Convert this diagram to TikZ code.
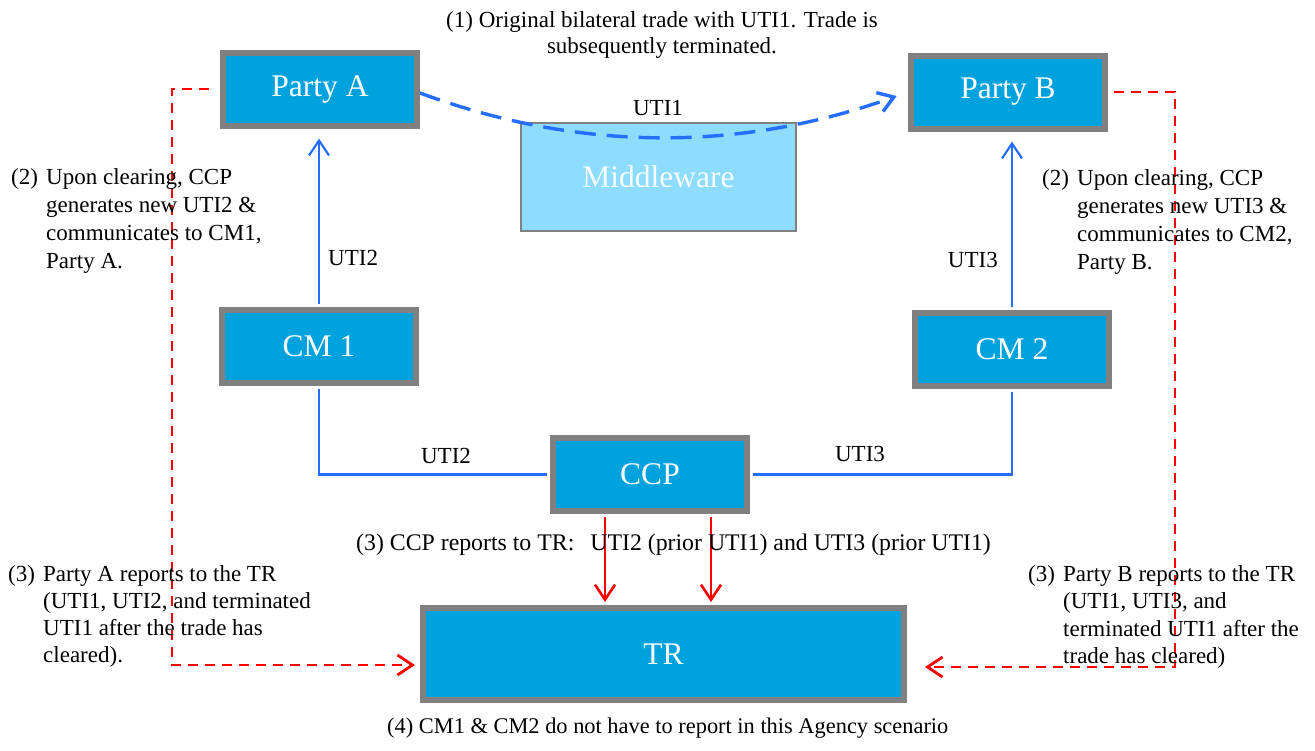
\documentclass[tikz,border=0pt]{standalone}
\usepackage{fontspec}
\setmainfont{Liberation Serif}
\usetikzlibrary{arrows.meta}

\definecolor{boxblue}{RGB}{0,162,222}
\definecolor{boxgray}{RGB}{128,128,128}
\definecolor{midblue}{RGB}{142,220,255}
\definecolor{lineblue}{RGB}{38,110,255}
\definecolor{linered}{RGB}{255,0,0}

\tikzset{
	entity/.style={draw=boxgray, line width=6pt, fill=boxblue, text=white, inner sep=0,
		minimum width=194pt, minimum height=73pt, font=\fontsize{31.5}{36}\selectfont},
	mware/.style={draw=boxgray, line width=2pt, fill=midblue, text=white!92!midblue, inner sep=0,
		minimum width=275pt, minimum height=108pt, font=\fontsize{31.5}{36}\selectfont},
	barb/.style={-{Straight Barb[length=15pt,width=20pt]}},
	flow/.style={draw=lineblue, line width=2.2pt},
	dflow/.style={draw=lineblue, line width=3.4pt, dash pattern=on 21pt off 11pt},
	rep/.style={draw=linered, line width=2.6pt},
	drep/.style={draw=linered, line width=2.8pt, dash pattern=on 10pt off 7pt},
	uti/.style={font=\fontsize{23}{28}\selectfont, inner sep=0},
	note/.style={font=\fontsize{23}{28}\selectfont, inner sep=0, anchor=base west}
}

\begin{document}
\begin{tikzpicture}[x=1pt, y=-1pt]
\useasboundingbox (0,0) rectangle (1315,750);

\pgfmathsetmacro{\colA}{320}
\pgfmathsetmacro{\colB}{1008}
\pgfmathsetmacro{\hang}{35}

\node[mware] (mw) at (658.5,177) {\raisebox{-3pt}{Middleware}};
\node[entity] (pa) at (\colA,89) {Party A};
\node[entity] (pb) at (\colB,92) {Party B};
\node[entity] (cm1) at (\colA-1,346.5) {CM 1};
\node[entity] (cm2) at (\colB+4,349) {CM 2};
\node[entity] (ccp) at (650,474.5) {CCP};
\node[entity, minimum width=481pt, minimum height=92pt] (tr) at (663.5,654) {TR};

\draw[dflow, barb, shorten >=12pt] ([yshift=-4pt]pa.east) .. controls (580,152) and (740,152) .. (pb.west);
\node[uti, anchor=base] (u1) at (658,115) {UTI1};

\draw[flow, barb, shorten <=3pt, shorten >=10pt] (cm1.north) -- (cm1.north |- pa.south);
\draw[flow, barb, shorten <=3pt, shorten >=10pt] (cm2.north) -- (cm2.north |- pb.south);
\node[uti, anchor=base west] (u2a) at (328,265) {UTI2};
\node[uti, anchor=base east] (u3a) at (998,267) {UTI3};

\draw[flow, shorten <=3pt, shorten >=3pt] (cm1.south) |- (ccp.west);
\draw[flow, shorten <=3pt, shorten >=3pt] (ccp.east) -| (cm2.south);
\node[uti, anchor=base] (u2b) at (446,463) {UTI2};
\node[uti, anchor=base] (u3b) at (860,461) {UTI3};

\coordinate (r1) at ([xshift=-45pt]ccp.south);
\coordinate (r2) at ([xshift=61pt]ccp.south);
\draw[rep, barb, shorten <=3pt, shorten >=3pt] (r1) -- (r1 |- tr.north);
\draw[rep, barb, shorten <=3pt, shorten >=3pt] (r2) -- (r2 |- tr.north);

\coordinate (lbend) at (172,665);
\coordinate (rbend) at (1175,667);
\draw[drep, barb, shorten <=11pt, shorten >=5pt] (pa.west) -| (lbend) -- (lbend -| tr.west);
\draw[drep, barb, shorten <=6pt, shorten >=18pt] (pb.east) -| (rbend) -- (rbend -| tr.east);

\node[note, anchor=base] (n1) at (662,27) {\fontsize{23}{26}\selectfont\begin{tabular}[t]{@{}c@{}}
	(1) Original bilateral trade with UTI1. Trade is\\
	subsequently terminated.\end{tabular}};
\node[note] (n2a) at (11,184.5) {\begin{tabular}[t]{@{}p{\hang pt}@{}l@{}}
	(2) & Upon clearing, CCP\\
	& generates new UTI2 \&\\
	& communicates to CM1,\\
	& Party A.\end{tabular}};
\node[note] (n2b) at (1042,185) {\begin{tabular}[t]{@{}p{\hang pt}@{}l@{}}
	(2) & Upon clearing, CCP\\
	& generates new UTI3 \&\\
	& communicates to CM2,\\
	& Party B.\end{tabular}};
\node[note] (n3c) at (356,550) {\fontsize{23.8}{28}\selectfont(3) CCP reports to TR:\hspace{16pt}UTI2 (prior UTI1) and UTI3 (prior UTI1)};
\node[note] (n3a) at (8,581) {\fontsize{23}{27.3}\selectfont\begin{tabular}[t]{@{}p{\hang pt}@{}l@{}}
	(3) & Party A reports to the TR\\
	& (UTI1, UTI2, and terminated\\
	& UTI1 after the trade has\\
	& cleared).\end{tabular}};
\node[note] (n3b) at (1028,581.5) {\fontsize{23}{27.3}\selectfont\begin{tabular}[t]{@{}p{\hang pt}@{}l@{}}
	(3) & Party B reports to the TR\\
	& (UTI1, UTI3, and\\
	& terminated UTI1 after the\\
	& trade has cleared)\end{tabular}};
\node[note] (n4) at (387,733) {\fontsize{22.4}{28}\selectfont(4) CM1 \& CM2 do not have to report in this Agency scenario};
\end{tikzpicture}
\end{document}
